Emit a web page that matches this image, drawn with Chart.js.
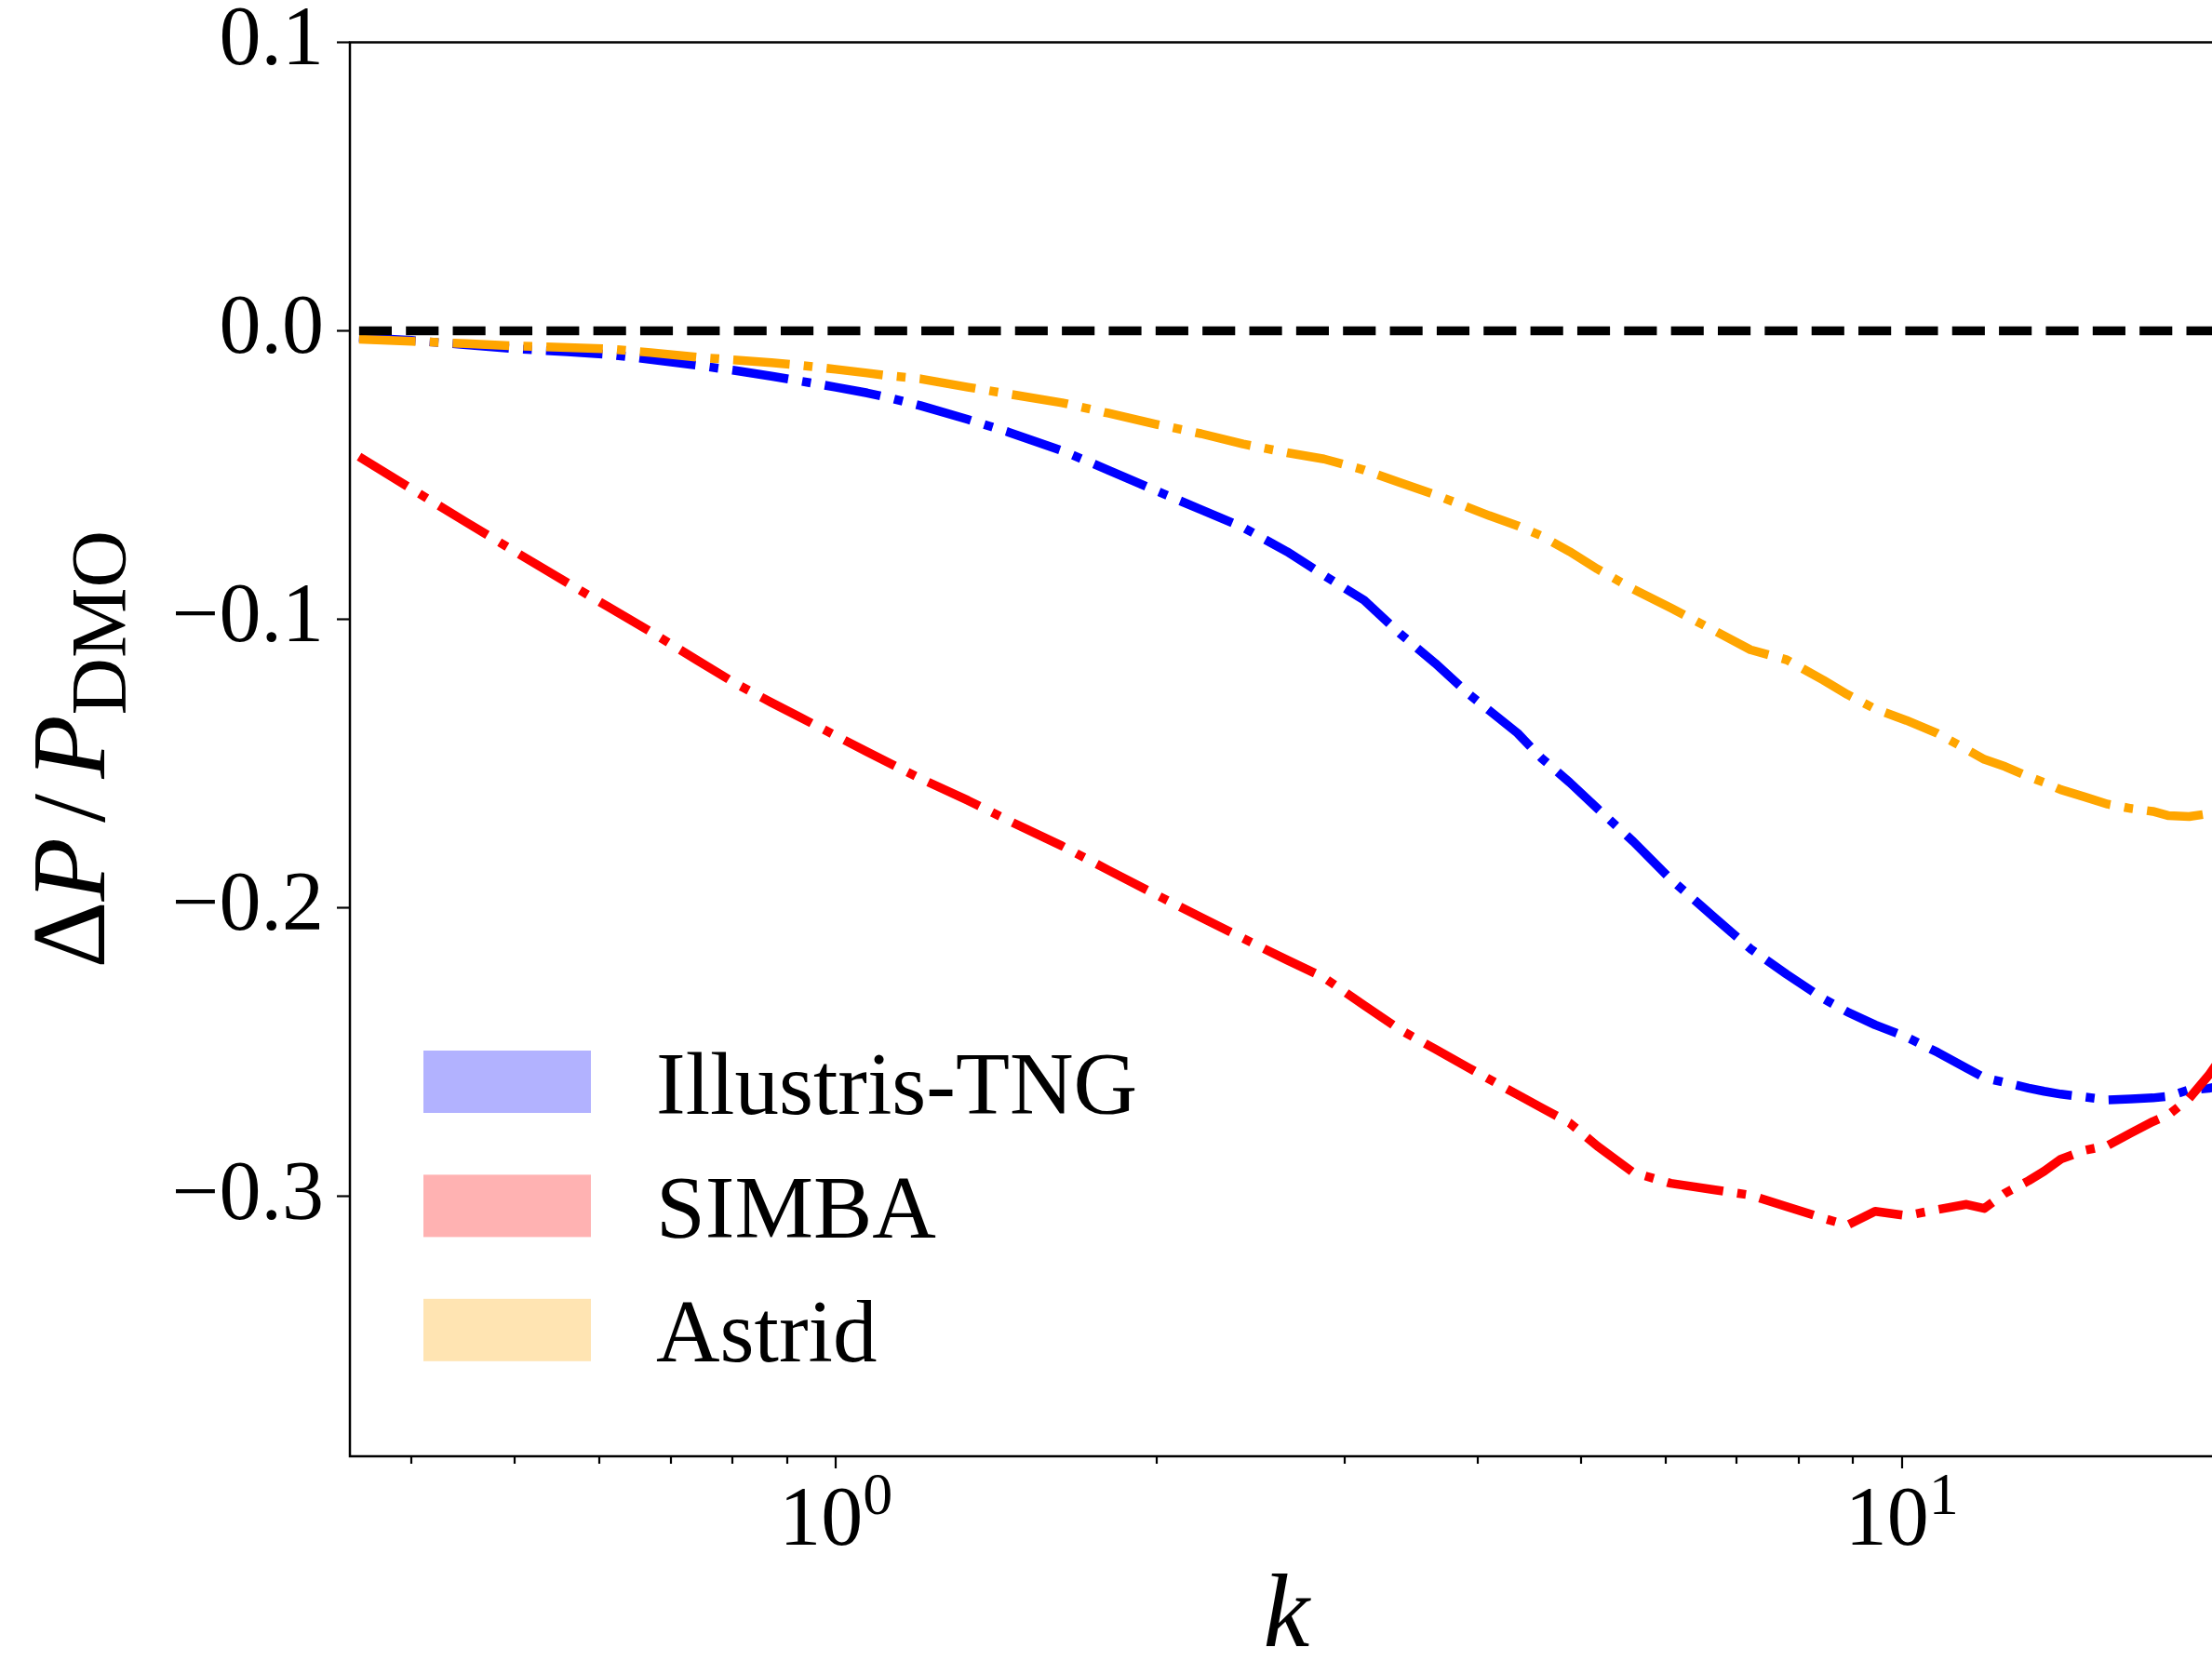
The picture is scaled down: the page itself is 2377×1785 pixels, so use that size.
<!DOCTYPE html>
<html>
<head>
<meta charset="utf-8">
<title>Delta P / P_DMO</title>
<script src="https://cdn.jsdelivr.net/npm/chart.js@4.4.1/dist/chart.umd.min.js"></script>
<style>
    html, body { margin: 0; padding: 0; background: #fff; overflow: hidden; }
    canvas { display: block; }
</style>
</head>
<body>
<canvas id="powerChart" width="2400" height="1785"></canvas>
<script>
const kValues = [0.357, 0.40, 0.45, 0.50, 0.56, 0.61, 0.67, 0.74, 0.80, 0.87, 0.92, 1.0, 1.07, 1.12, 1.2, 1.33,
    1.45, 1.63, 1.8, 2.0, 2.2, 2.41, 2.65, 2.87, 3.13, 3.38, 3.65, 3.92, 4.1, 4.36, 4.59, 4.88, 5.18, 5.6, 6.07,
    6.68, 7.21, 7.8, 8.44, 8.89, 9.44, 10.1, 10.8, 11.5, 11.95, 12.5, 13.15, 13.6, 14.1, 14.84, 15.6, 16.4,
    17.2, 17.8, 18.6, 19.4, 20.0];

const tngValues = [-0.0023, -0.0033, -0.0048, -0.0062, -0.0072, -0.0081, -0.0099, -0.0119, -0.0136, -0.0157,
    -0.0172, -0.0195, -0.0215, -0.0231, -0.0259, -0.0307, -0.0350, -0.0415, -0.0482, -0.0555, -0.0619, -0.0681,
    -0.0765, -0.0847, -0.0933, -0.1048, -0.1152, -0.1257, -0.1315, -0.1394, -0.1480, -0.1565, -0.1655, -0.1770,
    -0.1900, -0.2035, -0.2141, -0.2230, -0.2314, -0.2360, -0.2405, -0.2447, -0.2500, -0.2555, -0.2588, -0.2605,
    -0.2624, -0.2635, -0.2645, -0.2655, -0.2665, -0.2662, -0.2658, -0.2652, -0.2630, -0.2625, -0.2615];

const simbaValues = [-0.0436, -0.0548, -0.0663, -0.0765, -0.0873, -0.0954, -0.1042, -0.1140, -0.1216, -0.1288,
    -0.1334, -0.1403, -0.1459, -0.1496, -0.1551, -0.1627, -0.1696, -0.1785, -0.1868, -0.1955, -0.2032, -0.2105,
    -0.2180, -0.2241, -0.2337, -0.2421, -0.2489, -0.2553, -0.2593, -0.2647, -0.2692, -0.2745, -0.2825, -0.2917,
    -0.2954, -0.2977, -0.2995, -0.3035, -0.3075, -0.3099, -0.3051, -0.3066, -0.3045, -0.3027, -0.3041, -0.2988,
    -0.2945, -0.2912, -0.2870, -0.2840, -0.2823, -0.2780, -0.2740, -0.2716, -0.2660, -0.2580, -0.2510];

const astridValues = [-0.0029, -0.0036, -0.0044, -0.0052, -0.0058, -0.0062, -0.0075, -0.0091, -0.0100, -0.0110,
    -0.0118, -0.0133, -0.0146, -0.0155, -0.0166, -0.0195, -0.0218, -0.0249, -0.0285, -0.0324, -0.0356, -0.0392,
    -0.0422, -0.0444, -0.0482, -0.0525, -0.0568, -0.0612, -0.0640, -0.0675, -0.0710, -0.0765, -0.0825, -0.0895,
    -0.0960, -0.1040, -0.1105, -0.1140, -0.1210, -0.1260, -0.1310, -0.1350, -0.1395, -0.1450, -0.1485, -0.1510,
    -0.1545, -0.1565, -0.1590, -0.1615, -0.1640, -0.1655, -0.1665, -0.1680, -0.1683, -0.1673, -0.1670];

const referenceLevel = 0;

const seriesLabels = ["Illustris-TNG", "SIMBA", "Astrid"];
const xMajorTicks = [1, 10];
const xMinorTicks = [0.4, 0.5, 0.6, 0.7, 0.8, 0.9, 2, 3, 4, 5, 6, 7, 8, 9, 20];
const yTickStep = 0.1;

const serif = '"Liberation Serif", "DejaVu Serif", serif';
const lineWidth = 9.5;
const dashDot = [6.4, 1.6, 1, 1.6].map(f => f * lineWidth);
const dashed = [3.7, 1.6].map(f => f * lineWidth);

const seriesStyle = {
    "Illustris-TNG": { color: "rgb(0, 0, 255)",   fill: "rgba(0, 0, 255, 0.3)",   order: 4 },
    "SIMBA":         { color: "rgb(255, 0, 0)",   fill: "rgba(255, 0, 0, 0.3)",   order: 3 },
    "Astrid":        { color: "rgb(255, 165, 0)", fill: "rgba(255, 165, 0, 0.3)", order: 2 }
};

function toPoints(values) {
    return values.map((v, i) => ({ x: kValues[i], y: v }));
}

function seriesDataset(label, values) {
    const s = seriesStyle[label];
    return {
        label: label,
        data: toPoints(values),
        borderColor: s.color,
        borderWidth: lineWidth,
        borderDash: dashDot,
        borderCapStyle: "butt",
        borderJoinStyle: "round",
        legendFill: s.fill,
        order: s.order
    };
}

function formatYTick(v) {
    if (Math.abs(v) < 1e-9) return "0.0";
    return v.toFixed(1).replace("-", "\u2212");
}

function drawYTitle(ctx, area) {
    const main = 112;
    const sub = 85;
    const parts = [
        { text: "\u0394", font: `${main}px ${serif}`, shift: 0, gap: 0 },
        { text: "P", font: `italic ${main}px ${serif}`, shift: 0, gap: 16 },
        { text: "/", font: `${main}px ${serif}`, shift: 0, gap: 16 },
        { text: "P", font: `italic ${main}px ${serif}`, shift: 0, gap: 0 },
        { text: "DMO", font: `${sub}px ${serif}`, shift: 23, gap: 0 }
    ];

    let total = 0;
    parts.forEach(p => {
        ctx.font = p.font;
        p.width = ctx.measureText(p.text).width;
        total += p.width + p.gap;
    });

    ctx.save();
    ctx.translate(area.left - 264, (area.top + area.bottom) / 2);
    ctx.rotate(-Math.PI / 2);
    ctx.fillStyle = "#000";
    ctx.textBaseline = "alphabetic";
    ctx.textAlign = "left";
    let x = -total / 2;
    parts.forEach(p => {
        ctx.font = p.font;
        ctx.fillText(p.text, x, p.shift);
        x += p.width + p.gap;
    });
    ctx.restore();
}

function drawLegend(ctx, area, datasets) {
    const items = datasets.filter(ds => seriesLabels.includes(ds.label));
    ctx.save();
    ctx.font = `95px ${serif}`;
    ctx.textBaseline = "alphabetic";
    ctx.textAlign = "left";
    items.forEach((ds, i) => {
        const top = area.bottom - 436 + i * 133.4;
        ctx.fillStyle = ds.legendFill;
        ctx.fillRect(area.left + 79, top, 180, 67);
        ctx.fillStyle = "#000";
        ctx.fillText(ds.label, area.left + 329, top + 33.5 + 34);
    });
    ctx.restore();
}

const frame = {
    id: "frame",
    afterDraw(chart) {
        const ctx = chart.ctx;
        const area = chart.chartArea;
        const xScale = chart.scales.x;

        ctx.save();
        ctx.strokeStyle = "#000";
        ctx.lineWidth = 2.5;
        ctx.beginPath();
        ctx.moveTo(area.left, area.bottom);
        ctx.lineTo(area.left, area.top);
        ctx.lineTo(area.right, area.top);
        ctx.lineTo(area.right, area.bottom);
        ctx.closePath();
        ctx.stroke();

        ctx.lineWidth = 2.2;
        const tick = (v, len) => {
            const px = Math.round(xScale.getPixelForValue(v));
            ctx.beginPath();
            ctx.moveTo(px, area.bottom);
            ctx.lineTo(px, area.bottom + len);
            ctx.stroke();
        };
        xMinorTicks.forEach(v => tick(v, 8));
        xMajorTicks.forEach(v => tick(v, 13));

        ctx.fillStyle = "#000";
        ctx.textBaseline = "alphabetic";
        ctx.textAlign = "left";
        xMajorTicks.forEach(v => {
            const px = xScale.getPixelForValue(v);
            const base = "10";
            const exp = String(Math.round(Math.log10(v)));
            ctx.font = `90px ${serif}`;
            const w1 = ctx.measureText(base).width;
            ctx.font = `64px ${serif}`;
            const w2 = ctx.measureText(exp).width;
            const x0 = px - (w1 + w2) / 2;
            ctx.font = `90px ${serif}`;
            ctx.fillText(base, x0, area.bottom + 95);
            ctx.font = `64px ${serif}`;
            ctx.fillText(exp, x0 + w1, area.bottom + 62);
        });
        ctx.restore();

        drawYTitle(ctx, area);
        drawLegend(ctx, area, chart.data.datasets);
    }
};

new Chart(document.getElementById("powerChart"), {
    type: "line",
    data: {
        datasets: [
            seriesDataset("Illustris-TNG", tngValues),
            seriesDataset("SIMBA", simbaValues),
            seriesDataset("Astrid", astridValues),
            {
                label: "DMO",
                data: [
                    { x: kValues[0], y: referenceLevel },
                    { x: kValues[kValues.length - 1], y: referenceLevel }
                ],
                borderColor: "#000",
                borderWidth: lineWidth,
                borderDash: dashed,
                borderCapStyle: "butt",
                order: 1
            }
        ]
    },
    options: {
        responsive: false,
        animation: false,
        devicePixelRatio: 1,
        elements: { point: { radius: 0 }, line: { tension: 0 } },
        layout: { padding: { top: 45.5, right: 11.5, left: 0, bottom: 0 } },
        plugins: {
            legend: { display: false },
            tooltip: { enabled: false }
        },
        scales: {
            x: {
                type: "logarithmic",
                min: 0.35,
                max: 20,
                grid: { display: false },
                border: { display: false },
                ticks: { display: false },
                title: {
                    display: true,
                    text: "k",
                    color: "#000",
                    font: { family: serif, style: "italic", size: 112, lineHeight: 0.8 },
                    padding: { top: 0, bottom: 1 }
                },
                afterFit: scale => { scale.height = 220; }
            },
            y: {
                min: -0.39,
                max: 0.1,
                grid: {
                    display: true,
                    drawOnChartArea: false,
                    drawTicks: true,
                    tickLength: 14,
                    tickWidth: 2.2,
                    tickColor: "#000"
                },
                border: { display: false },
                ticks: {
                    stepSize: yTickStep,
                    includeBounds: false,
                    padding: 14,
                    color: "#000",
                    font: { family: serif, size: 90, lineHeight: 0.5 },
                    callback: formatYTick
                },
                afterFit: scale => { scale.width = 376; }
            }
        }
    },
    plugins: [frame]
});
</script>
</body>
</html>
